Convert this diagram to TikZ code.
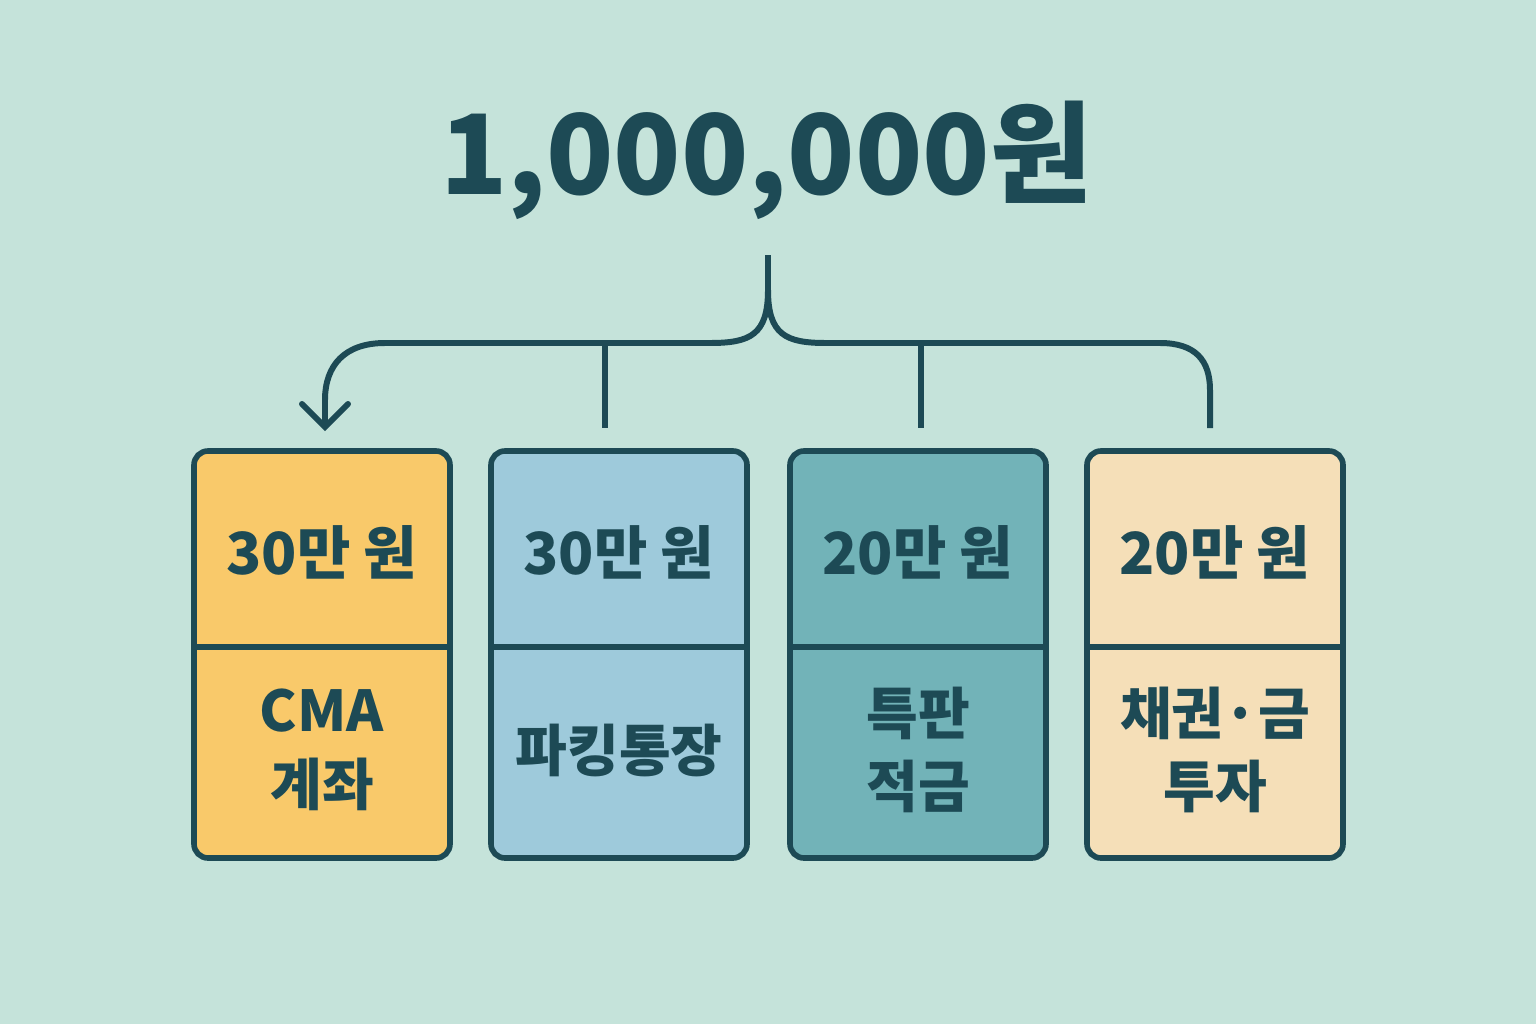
\documentclass[tikz,border=0pt]{standalone}
\usepackage{fontspec}
\setmainfont{Noto Sans CJK KR}
\usetikzlibrary{arrows.meta}
\definecolor{bg}{HTML}{C5E3DA}
\definecolor{ink}{HTML}{1D4A55}
\definecolor{cy}{HTML}{F9C96A}
\definecolor{cb}{HTML}{9ECADB}
\definecolor{ct}{HTML}{72B3B8}
\definecolor{cw}{HTML}{F5DFB8}
\tikzset{
 px/.style={x=0.01cm,y=-0.01cm},
 card/.style={draw=ink,line width=1.6pt,rounded corners=4pt},
 conn/.style={draw=ink,line width=1.7pt},
 amt/.style={text=ink,font=\fontsize{16.5}{20}\selectfont\bfseries},
 lab/.style={text=ink,font=\fontsize{16}{21}\selectfont\bfseries,align=center},
}
\begin{document}
\begin{tikzpicture}[px]
\fill[bg] (0,0) rectangle (1536,1024);
\useasboundingbox (0,0) rectangle (1536,1024);
\node[text=ink,font=\fontsize{31.5}{36}\selectfont\bfseries] (title) at (766,160) {1,000,000원};
\foreach \i/\x/\c/\a/\l in {1/194/cy/30만 원/CMA\\계좌, 2/491/cb/30만 원/파킹통장, 3/790/ct/20만 원/특판\\적금, 4/1087/cw/20만 원/채권·금\\투자}{
  \fill[\c,rounded corners=4pt] (\x,451) rectangle ++(256,407);
  \draw[conn] (\x,647) -- ++(256,0);
  \draw[card] (\x,451) rectangle ++(256,407);
  \node[amt] (a\i) at (\x+128,552) {\a};
  \node[lab] (l\i) at (\x+128,750) {\l};
}
\coordinate (top) at (768,255);
\coordinate (tl) at (325,427);
\coordinate (tr) at (1210,428);
\draw[conn] (top) -- (768,290) .. controls (768,335) and (750,343) .. (710,343) -- (385,343)
  .. controls (345,343) and (325,365) .. (325,400) -- (tl);
\draw[conn] (768,290) .. controls (768,335) and (786,343) .. (826,343) -- (1160,343)
  .. controls (1195,343) and (1210,360) .. (1210,390) -- (tr);
\draw[conn,line cap=round] (302,404) -- (tl) -- (348,404);
\draw[conn] (605,343) -- (605,428);
\draw[conn] (921,343) -- (921,428);
\end{tikzpicture}
\end{document}
